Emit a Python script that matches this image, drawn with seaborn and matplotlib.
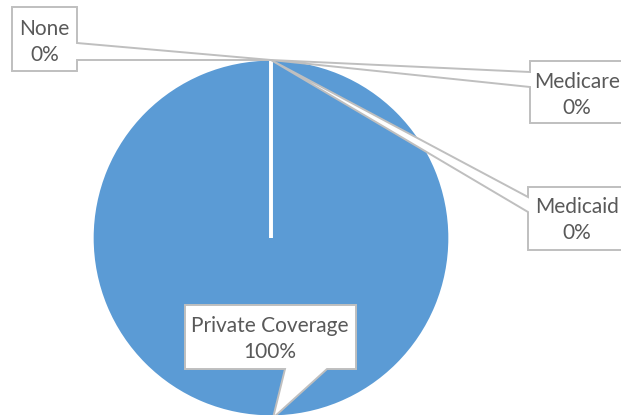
import matplotlib
matplotlib.use("Agg")
import matplotlib.pyplot as plt
from matplotlib.patches import Polygon
import seaborn as sns

# Coverage shares (percent)
categories = ["None", "Medicare", "Medicaid", "Private Coverage"]
shares = [0, 0, 0, 100]
slice_color = "#5B9BD5"

sns.set_theme(style="white")
plt.rcParams["font.family"] = ["Lato", "DejaVu Sans"]

W, H = 621, 415
fig = plt.figure(figsize=(W / 100, H / 100), dpi=100)
ax = fig.add_axes([0, 0, 1, 1])


def Y(py):
    """Convert a top-down pixel row to the axes' bottom-up y."""
    return H - py


cx, cy, r = 271, 238, 179
wedges, _ = ax.pie(
    shares,
    colors=[slice_color] * len(shares),
    startangle=90,
    counterclock=False,
    center=(cx, Y(cy)),
    radius=r,
    wedgeprops=dict(edgecolor="white", linewidth=2.4),
    frame=False,
)
# Empty slices collapse to a single radial edge; keep it above the full slice
for w, v in zip(wedges, shares):
    if v == 0:
        w.set_zorder(2)

ax.set_xlim(0, W)
ax.set_ylim(0, H)
ax.set_aspect("equal")
ax.axis("off")

edge = "#BFBFBF"
text_color = "#595959"
fs = 15

# Callout shapes: box outline with a tail running to the slice anchor
callouts = {
    "None": [(12, 7), (77, 7), (77, 43), (271, 60), (77, 60), (77, 71), (12, 71)],
    "Medicare": [(530, 61), (630, 61), (630, 123), (530, 123), (530, 87), (271, 60), (530, 72)],
    "Medicaid": [(528, 187), (630, 187), (630, 250), (528, 250), (528, 212), (271, 60), (528, 197)],
    "Private Coverage": [(185, 305), (356, 305), (356, 369), (327, 369), (273, 418), (285, 369), (185, 369)],
}
text_pos = {
    "None": (44.5, 42),
    "Medicare": (577, 95),
    "Medicaid": (577, 220),
    "Private Coverage": (270, 339),
}

total = sum(shares)
for name, val in zip(categories, shares):
    pts = [(x, Y(y)) for x, y in callouts[name]]
    ax.add_patch(Polygon(pts, closed=True, facecolor="white", edgecolor=edge,
                         linewidth=1.4, joinstyle="miter", zorder=3))
    tx, ty = text_pos[name]
    ax.text(tx, Y(ty), f"{name}\n{val / total:.0%}", ha="center", va="center",
            fontsize=fs, color=text_color, linespacing=1.42, zorder=4)

fig.savefig("out.png", dpi=100)
